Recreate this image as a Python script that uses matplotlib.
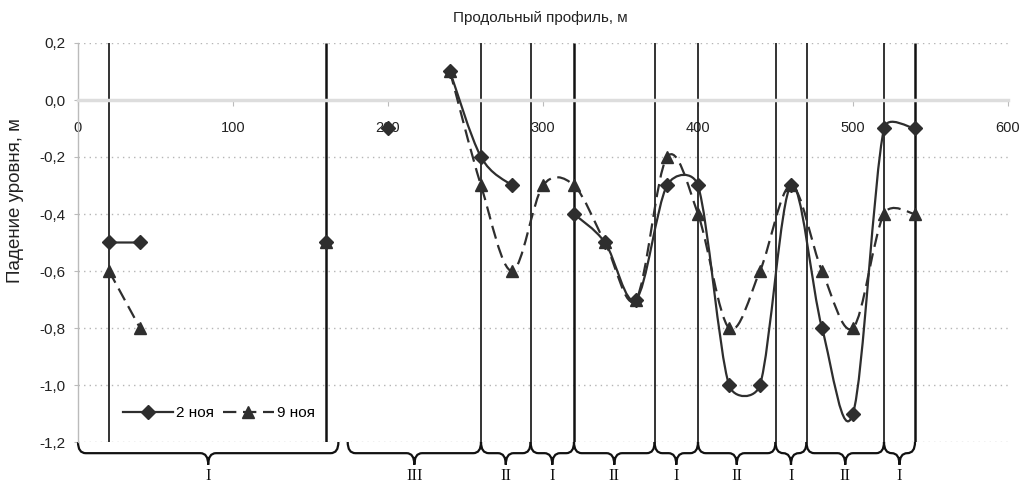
import numpy as np
import matplotlib
matplotlib.use('Agg')
import matplotlib.pyplot as plt
import matplotlib.transforms as mtransforms
from matplotlib.path import Path
from matplotlib.patches import PathPatch
from matplotlib.lines import Line2D
from matplotlib.ticker import FuncFormatter, MultipleLocator

plt.rcParams['font.family'] = ['Liberation Sans', 'DejaVu Sans']

nan = np.nan

# profile distance, m
distance = [20, 40, 60, 80, 100, 120, 140, 160, 180, 200, 220, 240, 260, 280,
            300, 320, 340, 360, 380, 400, 420, 440, 460, 480, 500, 520, 540]
# level drop, m
nov2 = [-0.5, -0.5, nan, nan, nan, nan, nan, -0.5, nan, -0.1, nan, 0.1, -0.2, -0.3,
        nan, -0.4, -0.5, -0.7, -0.3, -0.3, -1.0, -1.0, -0.3, -0.8, -1.1, -0.1, -0.1]
nov9 = [-0.6, -0.8, nan, nan, nan, nan, nan, -0.5, nan, nan, nan, 0.1, -0.3, -0.6,
        -0.3, -0.3, -0.5, -0.7, -0.2, -0.4, -0.8, -0.6, -0.3, -0.6, -0.8, -0.4, -0.4]
series_labels = ['2 ноя', '9 ноя']

# zone boundaries and zone types
boundaries = [20, 160, 260, 292, 320, 372, 400, 450, 470, 520, 540]
zone_start = [0, 174, 260, 292, 320, 372, 400, 450, 470, 520]
zone_end = [168, 260, 292, 320, 372, 400, 450, 470, 520, 540]
zone_names = ['I', 'III', 'II', 'I', 'II', 'I', 'II', 'I', 'II', 'I']

dark = '#2e2e2e'
dash = (0, (6, 3))


def runs(xs, ys):
    # split a series into pieces without gaps
    out, cur = [], []
    for xi, yi in zip(xs, ys):
        if np.isnan(yi):
            if cur:
                out.append(cur)
            cur = []
        else:
            cur.append((xi, yi))
    if cur:
        out.append(cur)
    return out


def smoothPath(ax, pts):
    # excel-like smoothed line, bezier control points in screen space
    p = ax.transData.transform(np.array(pts, float))
    ext = np.vstack([p[0], p, p[-1]])
    tang = (ext[2:] - ext[:-2]) / 6.0
    verts = [p[0]]
    codes = [Path.MOVETO]
    for i in range(len(p) - 1):
        d = np.hypot(*(p[i + 1] - p[i]))
        t0, t1 = tang[i], tang[i + 1]
        s0 = min(1.0, 0.5 * d / max(np.hypot(*t0), 1e-9))
        s1 = min(1.0, 0.5 * d / max(np.hypot(*t1), 1e-9))
        verts += [p[i] + t0 * s0, p[i + 1] - t1 * s1, p[i + 1]]
        codes += [Path.CURVE4] * 3
    verts = ax.transData.inverted().transform(np.array(verts))
    return Path(verts, codes)


def bracePath(a, b, y0=0.0, ym=-0.028, yt=-0.057, r=5.0):
    c = (a + b) / 2.0
    r = min(r, (b - a) / 4.0)
    verts = [(a, y0), (a, ym), (a + r, ym), (c - r, ym), (c, ym), (c, yt),
             (c, ym), (c + r, ym), (b - r, ym), (b, ym), (b, y0)]
    codes = [Path.MOVETO, Path.CURVE3, Path.CURVE3, Path.LINETO, Path.CURVE3, Path.CURVE3,
             Path.CURVE3, Path.CURVE3, Path.LINETO, Path.CURVE3, Path.CURVE3]
    return Path(verts, codes)


fig = plt.figure(figsize=(10.24, 4.86), dpi=100)
ax = fig.add_axes([78 / 1024, 1 - 442 / 486, 930 / 1024, 399 / 486])
ax.set_xlim(0, 600)
ax.set_ylim(-1.2, 0.2)

# axes look
for s in ['top', 'right']:
    ax.spines[s].set_visible(False)
ax.spines['bottom'].set_position(('data', 0))
ax.spines['bottom'].set_color('#dddddd')
ax.spines['bottom'].set_linewidth(2.5)
ax.spines['left'].set_color('#bbbbbb')
ax.spines['left'].set_linewidth(1)
ax.xaxis.set_major_locator(MultipleLocator(100))
ax.yaxis.set_major_locator(MultipleLocator(0.2))
ax.yaxis.set_major_formatter(FuncFormatter(lambda v, p: ('%.1f' % (v + 0.0)).replace('.', ',').replace('-0,0', '0,0')))
ax.tick_params(axis='x', length=4, color='#bbbbbb', pad=11, labelsize=10.5, labelcolor='#222222')
ax.tick_params(axis='y', length=3, color='#bbbbbb', pad=6, labelsize=11, labelcolor='#222222')
ax.yaxis.grid(True, linestyle=(0, (1, 3)), color='#b5b5b5', linewidth=1)
ax.set_axisbelow(True)

# zone boundaries, a few drawn heavier like in the source
heavy = [160, 320, 540]
for b in boundaries:
    ax.vlines(b, -1.2, 0.2, colors='#111111', linewidth=1.8 if b in heavy else 1.2, zorder=2)

# smoothed lines
for pts in runs(distance, nov2):
    if len(pts) > 1:
        ax.add_patch(PathPatch(smoothPath(ax, pts), fill=False, edgecolor=dark, linewidth=1.6, zorder=3))
for pts in runs(distance, nov9):
    if len(pts) > 1:
        ax.add_patch(PathPatch(smoothPath(ax, pts), fill=False, edgecolor=dark, linewidth=1.6,
                               linestyle=dash, zorder=3))

ax.plot(distance, nov9, linestyle='none', marker='^', markersize=8, color=dark, zorder=4, clip_on=False)
ax.plot(distance, nov2, linestyle='none', marker='D', markersize=7, color=dark, zorder=5, clip_on=False)

# braces under the axis
blend = mtransforms.blended_transform_factory(ax.transData, ax.transAxes)
for a, b, name in zip(zone_start, zone_end, zone_names):
    ax.add_patch(PathPatch(bracePath(a, b), fill=False, edgecolor='#111111', linewidth=1.6,
                           transform=blend, clip_on=False))
    ax.text((a + b) / 2.0, -0.084, name, transform=blend, ha='center', va='center',
            family='Liberation Serif', fontsize=12, color='#111111', clip_on=False)

h1 = Line2D([], [], color=dark, linewidth=1.6, marker='D', markersize=7)
h2 = Line2D([], [], color=dark, linewidth=1.6, linestyle=dash, marker='^', markersize=8)
ax.legend([h1, h2], series_labels, ncol=2, frameon=False, loc='center left',
          bbox_to_anchor=(0.048, 0.073), handlelength=3.3, handletextpad=0.2,
          columnspacing=0.6, borderpad=0, borderaxespad=0, fontsize=11)

fig.text(540 / 1024, 1 - 18 / 486, 'Продольный профиль, м', ha='center', va='center', fontsize=11, color='#222222')
fig.text(16 / 1024, 1 - 201 / 486, 'Падение уровня, м', ha='center', va='center', rotation=90,
         fontsize=13.5, color='#222222')

fig.savefig('out.png', dpi=100)
